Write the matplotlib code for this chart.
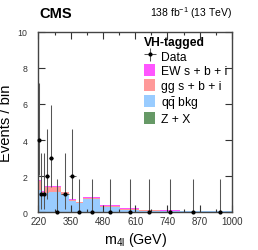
import numpy as np
import matplotlib
matplotlib.use("Agg")
import matplotlib.pyplot as plt
from matplotlib.patches import Patch

plt.rcParams['font.family'] = ['Liberation Sans', 'DejaVu Sans']
plt.rcParams['mathtext.fontset'] = 'custom'
plt.rcParams['mathtext.rm'] = 'Liberation Sans'
plt.rcParams['mathtext.it'] = 'Liberation Sans:italic'
plt.rcParams['mathtext.bf'] = 'Liberation Sans:bold'

# ---- data ----
bin_edges = [220, 226, 236, 246, 262, 280, 309, 342, 370, 400, 470, 550, 625, 710, 790, 900, 1000]
zx_bkg   = [0.03, 0.03, 0.03, 0.03, 0.02, 0.02, 0.02, 0.01, 0.01, 0.01, 0.005, 0.003, 0.002, 0.001, 0.001, 0.001]
qq_bkg   = [1.17, 1.17, 0.90, 1.05, 1.07, 1.07, 0.92, 0.59, 0.49, 0.70, 0.275, 0.127, 0.068, 0.059, 0.049, 0.039]
gg_sbi   = [0.55, 0.55, 0.18, 0.30, 0.30, 0.30, 0.15, 0.09, 0.04, 0.10, 0.07, 0.04, 0.03, 0.02, 0.01, 0.005]
ew_sbi   = [0.05, 0.05, 0.04, 0.06, 0.05, 0.04, 0.04, 0.03, 0.03, 0.04, 0.04, 0.03, 0.03, 0.02, 0.02, 0.015]
data_obs = [4, 1, 1, 2, 3, 0, 1, 2, 0, 0, 0, 0, 0, 0, 0, 0]
# Garwood 68% Poisson intervals
garwood_lo = {0: 0.0, 1: 0.173, 2: 0.708, 3: 1.367, 4: 2.086}
garwood_hi = {0: 1.841, 1: 3.300, 2: 4.638, 3: 5.918, 4: 7.163}

x_ticks = [220, 350, 480, 610, 740, 870, 1000]
y_ticks = [0, 2, 4, 6, 8, 10]

legend_labels = ['Data', 'EW s + b + i', 'gg s + b + i', r'$\mathrm{q\bar{q}}$ bkg', 'Z + X']
colors = {'ew': '#ff55ff', 'gg': '#ff9999', 'qq': '#99ccff', 'zx': '#669966'}

# ---- figure ----
fig = plt.figure(figsize=(2.58, 2.51), dpi=100)
ax = fig.add_axes([0.149, 0.151, 0.750, 0.718])

edges = np.array(bin_edges, dtype=float)
b0 = np.zeros(len(zx_bkg))
b1 = b0 + np.array(zx_bkg)
b2 = b1 + np.array(qq_bkg)
b3 = b2 + np.array(gg_sbi)
b4 = b3 + np.array(ew_sbi)
ax.stairs(b1, edges, baseline=b0, fill=True, color=colors['zx'], lw=0)
ax.stairs(b2, edges, baseline=b1, fill=True, color=colors['qq'], lw=0)
ax.stairs(b3, edges, baseline=b2, fill=True, color=colors['gg'], lw=0)
ax.stairs(b4, edges, baseline=b3, fill=True, color=colors['ew'], lw=0)

centers = 0.5 * (edges[1:] + edges[:-1])
half = 0.5 * (edges[1:] - edges[:-1])
d = np.array(data_obs)
ylo = np.array([garwood_lo[n] for n in data_obs])
yhi = np.array([garwood_hi[n] for n in data_obs])
xerr = np.where(d > 0, half, 0.0)
eb = ax.errorbar(centers, d, yerr=[d - ylo, yhi - d], xerr=xerr, fmt='o', ms=2.0,
                 color='black', ecolor='#555555', elinewidth=0.75, capsize=0,
                 clip_on=False, zorder=5)

ax.set_xlim(220, 1000)
ax.set_ylim(0, 10)
ax.set_xticks(x_ticks)
ax.set_xticks(np.arange(220, 1001, 65), minor=True)
ax.set_yticks(y_ticks)
ax.tick_params(which='both', direction='in', top=True, right=True, colors='#333333')
ax.tick_params(axis='x', labelsize=7, pad=2.5)
ax.tick_params(axis='y', labelsize=6.3, pad=8)
ax.tick_params(which='major', length=5, width=0.8)
ax.tick_params(which='minor', length=2.5, width=0.8)
for s in ax.spines.values():
    s.set_linewidth(1.0)
    s.set_color('#444444')

ax.set_xlabel(r'm$_{\mathrm{4l}}$ (GeV)', fontsize=10.3, labelpad=3)
ax.set_ylabel('Events / bin', fontsize=10.6, labelpad=3)

fig.text(0.151, 0.915, 'CMS', fontsize=10.5, fontweight='bold', ha='left', va='bottom')
fig.text(0.899, 0.915, r'138 fb$^{-1}$ (13 TeV)', fontsize=7.5, ha='right', va='bottom')

handles = [
    eb,
    Patch(facecolor=colors['ew'], edgecolor='none'),
    Patch(facecolor=colors['gg'], edgecolor='none'),
    Patch(facecolor=colors['qq'], edgecolor='none'),
    Patch(facecolor=colors['zx'], edgecolor='none'),
]
leg = ax.legend(handles, legend_labels, loc='upper left', bbox_to_anchor=(0.52, 1.006),
                frameon=False, fontsize=8.7, title='VH-tagged',
                title_fontproperties={'weight': 'bold', 'size': 8.7},
                handlelength=0.95, handleheight=1.15, handletextpad=0.45,
                labelspacing=0.15, borderaxespad=0.0, alignment='left')

fig.savefig('out.png', dpi=100)
